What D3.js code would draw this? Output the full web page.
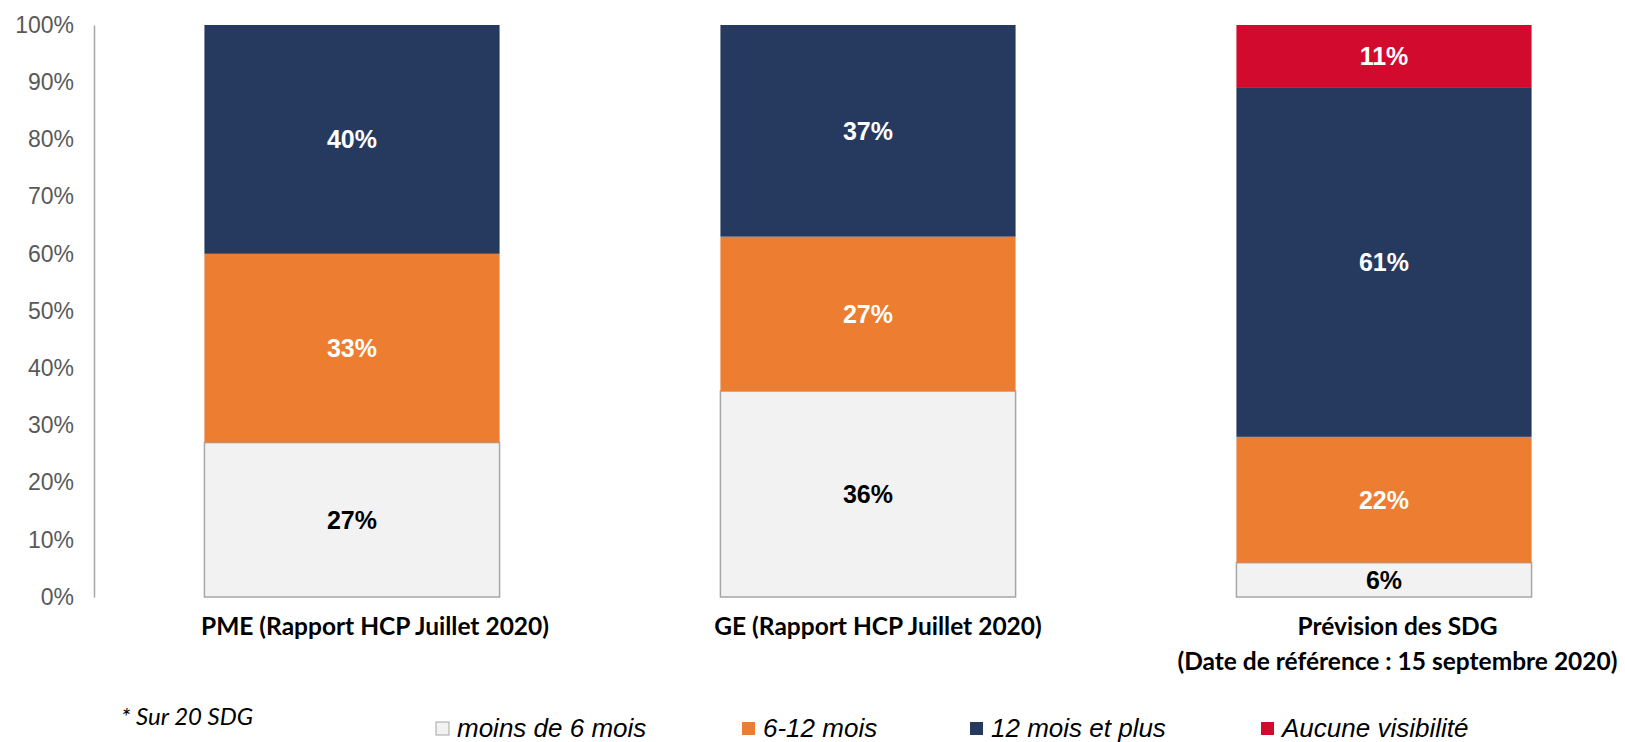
<!DOCTYPE html>
<html>
<head>
<meta charset="utf-8">
<script src="https://cdn.jsdelivr.net/npm/d3@7"></script>
<style>
  html, body { margin: 0; padding: 0; background: #fff; }
  svg { display: block; }
</style>
</head>
<body>
<svg id="chart" width="1625" height="742"></svg>
<script>
// ---- Data ----
const categories = [
  ["PME (Rapport HCP Juillet 2020)"],
  ["GE (Rapport HCP Juillet 2020)"],
  ["Prévision des SDG", "(Date de référence : 15 septembre 2020)"]
];
const seriesNames = ["moins de 6 mois", "6-12 mois", "12 mois et plus", "Aucune visibilité"];
const moins6 = [27, 36, 6];
const mois6_12 = [33, 27, 22];
const mois12plus = [40, 37, 61];
const aucune = [0, 0, 11];
const yTicks = [0, 10, 20, 30, 40, 50, 60, 70, 80, 90, 100];
const footnote = "* Sur 20 SDG";

const colors = ["#F2F2F2", "#ED7D31", "#263A60", "#D20A2E"];
const labelColors = ["#000", "#fff", "#fff", "#fff"];
const catLabelShift = [23, 10, 13.5];

const svg = d3.select("#chart");
const plotTop = 25, plotBottom = 597, axisX = 94;

const x = d3.scaleBand()
  .domain(d3.range(categories.length))
  .range([axisX, axisX + 3 * 516])
  .paddingInner(0.428)
  .paddingOuter(0.214);

const y = d3.scaleLinear().domain([0, 100]).range([plotBottom, plotTop]);

// Y axis
const yAxis = d3.axisLeft(y).tickValues(yTicks).tickFormat(d => d + "%").tickSize(0).tickPadding(20);
const gy = svg.append("g").attr("transform", `translate(${axisX},0)`).call(yAxis);
gy.select(".domain").attr("stroke", "#A6A6A6").attr("stroke-width", 1.5);
gy.selectAll("text")
  .attr("font-family", "'Liberation Sans', Arial, sans-serif")
  .attr("font-size", 23)
  .attr("fill", "#595959");

// Stacked data
const table = categories.map((c, i) => ({
  i,
  s0: moins6[i], s1: mois6_12[i], s2: mois12plus[i], s3: aucune[i]
}));
const stack = d3.stack().keys(["s0", "s1", "s2", "s3"]);
const stacked = stack(table);

stacked.forEach((layer, k) => {
  const g = svg.append("g");
  layer.forEach((d, i) => {
    const v = d[1] - d[0];
    if (v <= 0) return;
    g.append("rect")
      .attr("x", x(i))
      .attr("width", x.bandwidth())
      .attr("y", y(d[1]))
      .attr("height", y(d[0]) - y(d[1]))
      .attr("fill", colors[k])
      .attr("stroke", k === 0 ? "#A6A6A6" : "none")
      .attr("stroke-width", k === 0 ? 1.5 : 0);
    g.append("text")
      .attr("x", x(i) + x.bandwidth() / 2)
      .attr("y", y((d[0] + d[1]) / 2))
      .attr("dy", "0.36em")
      .attr("text-anchor", "middle")
      .attr("font-family", "'Liberation Sans', Arial, sans-serif")
      .attr("font-weight", "bold")
      .attr("font-size", 25)
      .attr("fill", labelColors[k])
      .text(v + "%");
  });
});

// Category labels
categories.forEach((lines, i) => {
  const t = svg.append("text")
    .attr("text-anchor", "middle")
    .attr("font-family", "Lato, 'Open Sans', sans-serif")
    .attr("font-weight", "bold")
    .attr("font-size", 24.5)
    .attr("fill", "#000");
  lines.forEach((ln, j) => {
    t.append("tspan")
      .attr("x", x(i) + x.bandwidth() / 2 + catLabelShift[i])
      .attr("y", 635 + j * 35)
      .text(ln);
  });
});

// Footnote
svg.append("text")
  .attr("x", 121)
  .attr("y", 725)
  .attr("font-family", "Lato, 'Open Sans', sans-serif")
  .attr("font-style", "italic")
  .attr("font-size", 24)
  .attr("fill", "#000")
  .text(footnote);

// Legend
const legendX = [436, 742, 970, 1261];
seriesNames.forEach((name, k) => {
  const g = svg.append("g").attr("transform", `translate(${legendX[k]},0)`);
  g.append("rect")
    .attr("x", 0).attr("y", 722)
    .attr("width", 13).attr("height", 13)
    .attr("fill", colors[k])
    .attr("stroke", k === 0 ? "#A6A6A6" : "none")
    .attr("stroke-width", 1);
  g.append("text")
    .attr("x", 21)
    .attr("y", 737)
    .attr("font-family", "'Liberation Sans', Arial, sans-serif")
    .attr("font-style", "italic")
    .attr("font-size", 26)
    .attr("fill", "#000")
    .text(name);
});
</script>
</body>
</html>
